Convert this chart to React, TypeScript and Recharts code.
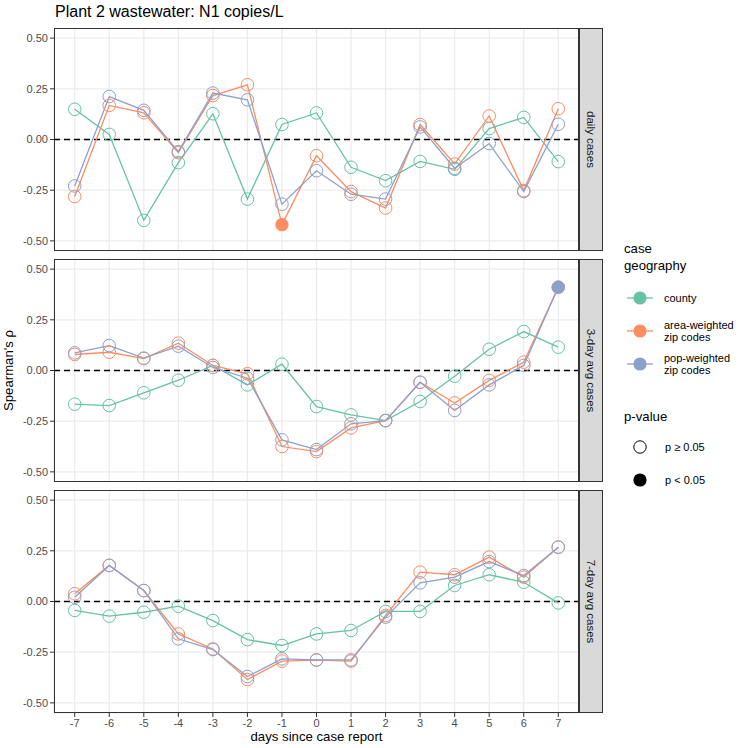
import React from "react";
import { LineChart, Line, XAxis, YAxis, CartesianGrid, ReferenceLine } from "recharts";

const DAYS = [-7, -6, -5, -4, -3, -2, -1, 0, 1, 2, 3, 4, 5, 6, 7];
const Y_TICKS = [0.5, 0.25, 0, -0.25, -0.5];

const FACETS = ["daily cases", "3-day avg cases", "7-day avg cases"];

// Spearman's rho, one array per facet and case geography
const DAILY_COUNTY = [0.149, 0.025, -0.399, -0.114, 0.127, -0.294, 0.074, 0.131, -0.137, -0.203, -0.108, -0.147, 0.054, 0.109, -0.109];
const DAILY_AREA = [-0.281, 0.168, 0.132, -0.065, 0.217, 0.27, -0.42, -0.08, -0.257, -0.338, 0.074, -0.121, 0.116, -0.252, 0.152];
const DAILY_POP = [-0.229, 0.212, 0.144, -0.06, 0.229, 0.196, -0.319, -0.154, -0.27, -0.294, 0.062, -0.142, -0.02, -0.257, 0.075];

const THREE_COUNTY = [-0.166, -0.173, -0.11, -0.048, 0.025, -0.071, 0.031, -0.178, -0.219, -0.247, -0.153, -0.028, 0.105, 0.192, 0.115];
const THREE_AREA = [0.079, 0.09, 0.059, 0.135, 0.025, -0.016, -0.375, -0.4, -0.283, -0.247, -0.058, -0.16, -0.049, 0.041, 0.411];
const THREE_POP = [0.087, 0.123, 0.061, 0.12, 0.015, -0.038, -0.342, -0.39, -0.263, -0.247, -0.058, -0.197, -0.071, 0.025, 0.411];

const SEVEN_COUNTY = [-0.044, -0.072, -0.053, -0.023, -0.094, -0.188, -0.217, -0.16, -0.143, -0.049, -0.049, 0.079, 0.132, 0.095, -0.007];
const SEVEN_AREA = [0.038, 0.178, 0.054, -0.16, -0.234, -0.385, -0.294, -0.289, -0.294, -0.069, 0.145, 0.132, 0.219, 0.12, 0.268];
const SEVEN_POP = [0.021, 0.178, 0.054, -0.184, -0.237, -0.37, -0.283, -0.288, -0.288, -0.077, 0.092, 0.12, 0.197, 0.128, 0.268];

// points with p < 0.05
const SIGNIFICANT = [
  { facet: "daily cases", series: "area", day: -1 },
  { facet: "3-day avg cases", series: "pop", day: 7 },
];

const SERIES = [
  { key: "county", label: ["county"], color: "#66C2A5" },
  { key: "area", label: ["area-weighted", "zip codes"], color: "#FC8D62" },
  { key: "pop", label: ["pop-weighted", "zip codes"], color: "#8DA0CB" },
];

const PANEL_VALUES = [
  { county: DAILY_COUNTY, area: DAILY_AREA, pop: DAILY_POP },
  { county: THREE_COUNTY, area: THREE_AREA, pop: THREE_POP },
  { county: SEVEN_COUNTY, area: SEVEN_AREA, pop: SEVEN_POP },
];

const FONT = "'Liberation Sans', Arial, Helvetica, sans-serif";
const PLOT_LEFT = 54;
const PLOT_W = 525;
const PANEL_H = 223;
const TOP0 = 28;
const GAP = 8;
const XAXIS_H = 22;

const panelTop = (i: number) => TOP0 + i * (PANEL_H + GAP);

const makeDot = (color: string, facet: string, series: string) => (props: any) => {
  const { cx, cy, payload, index } = props;
  if (cx == null || cy == null) return <g key={`d-${index}`} />;
  const sig = SIGNIFICANT.some((s) => s.facet === facet && s.series === series && s.day === payload.day);
  return sig ? (
    <circle key={`d-${index}`} cx={cx} cy={cy} r={6.4} fill={color} stroke={color} strokeWidth={0.5} />
  ) : (
    <circle key={`d-${index}`} cx={cx} cy={cy} r={6.3} fill="none" stroke={color} strokeWidth={1} />
  );
};

const Panel = ({ index }: { index: number }) => {
  const vals = PANEL_VALUES[index] as any;
  const facet = FACETS[index];
  const data = DAYS.map((d, i) => ({ day: d, county: vals.county[i], area: vals.area[i], pop: vals.pop[i] }));
  const bottom = index === 2;
  const tickStyle = { fill: "#4D4D4D", fontSize: 11, fontFamily: FONT };
  return (
    <div style={{ position: "absolute", left: 0, top: panelTop(index) }}>
      <LineChart
        width={PLOT_LEFT + PLOT_W}
        height={PANEL_H + (bottom ? XAXIS_H : 0)}
        data={data}
        margin={{ top: 0, right: 0, bottom: 0, left: 0 }}
      >
        <CartesianGrid stroke="#EBEBEB" strokeWidth={1.2} />
        <XAxis
          dataKey="day"
          type="number"
          domain={[-7.6, 7.6]}
          allowDataOverflow
          ticks={DAYS}
          hide={!bottom}
          height={XAXIS_H}
          axisLine={false}
          tickLine={{ stroke: "#333333" }}
          tickSize={4}
          tickMargin={2}
          tick={tickStyle}
          interval={0}
        />
        <YAxis
          type="number"
          domain={[-0.55, 0.55]}
          allowDataOverflow
          ticks={Y_TICKS}
          width={PLOT_LEFT}
          axisLine={false}
          tickLine={{ stroke: "#333333" }}
          tickSize={4}
          tickMargin={2}
          tick={tickStyle}
          tickFormatter={(v: number) => v.toFixed(2)}
          interval={0}
        />
        <ReferenceLine y={0} stroke="#000000" strokeWidth={1.4} strokeDasharray="6 4" />
        {SERIES.map((s) => (
          <Line
            key={`l-${s.key}`}
            dataKey={s.key}
            stroke={s.color}
            strokeWidth={1.3}
            dot={false}
            activeDot={false}
            isAnimationActive={false}
            type="linear"
          />
        ))}
        {SERIES.map((s) => (
          <Line
            key={`p-${s.key}`}
            dataKey={s.key}
            stroke="none"
            strokeOpacity={0}
            dot={makeDot(s.color, facet, s.key)}
            activeDot={false}
            isAnimationActive={false}
            type="linear"
          />
        ))}
      </LineChart>
    </div>
  );
};

const Overlay = () => {
  const centerY = (TOP0 + panelTop(2) + PANEL_H) / 2;
  return (
    <svg
      width={739}
      height={748}
      style={{ position: "absolute", left: 0, top: 0, pointerEvents: "none" }}
      fontFamily={FONT}
    >
      <text x={55} y={16.7} fontSize={16} fill="#000">
        Plant 2 wastewater: N1 copies/L
      </text>
      <text transform={`translate(12.5, ${centerY}) rotate(-90)`} textAnchor="middle" fontSize={13.2} fill="#000">
        Spearman's ρ
      </text>
      <text x={PLOT_LEFT + PLOT_W / 2} y={741} textAnchor="middle" fontSize={13.2} fill="#000">
        days since case report
      </text>
      {FACETS.map((f, i) => (
        <g key={f}>
          <rect x={PLOT_LEFT + 0.5} y={panelTop(i) + 0.5} width={PLOT_W - 1} height={PANEL_H - 1} fill="none" stroke="#333333" strokeWidth={1} />
          <rect x={PLOT_LEFT + PLOT_W + 0.5} y={panelTop(i) + 0.5} width={23} height={PANEL_H - 1} fill="#D9D9D9" stroke="#333333" strokeWidth={1} />
          <text
            transform={`translate(${PLOT_LEFT + PLOT_W + 12}, ${panelTop(i) + PANEL_H / 2}) rotate(90)`}
            textAnchor="middle"
            dominantBaseline="central"
            fontSize={11.5}
            fill="#1A1A1A"
          >
            {f}
          </text>
        </g>
      ))}
      <text x={624} y={253} fontSize={13.2} fill="#000">case</text>
      <text x={624} y={270} fontSize={13.2} fill="#000">geography</text>
      {SERIES.map((s, i) => {
        const cy = [298, 331, 364][i];
        return (
          <g key={s.key}>
            <line x1={627} x2={653} y1={cy} y2={cy} stroke={s.color} strokeWidth={1.3} />
            <circle cx={640} cy={cy} r={6.6} fill={s.color} />
            {s.label.map((t, j) => (
              <text key={t} x={664} y={cy + 4 + (s.label.length === 2 ? (j === 0 ? -6 : 6) : 0)} fontSize={11} fill="#000">
                {t}
              </text>
            ))}
          </g>
        );
      })}
      <text x={624} y={421} fontSize={13.2} fill="#000">p-value</text>
      <circle cx={640} cy={447} r={6.2} fill="none" stroke="#000" strokeWidth={1} />
      <text x={665} y={451} fontSize={11} fill="#000">p ≥ 0.05</text>
      <circle cx={640} cy={480} r={6.6} fill="#000" />
      <text x={665} y={484} fontSize={11} fill="#000">p &lt; 0.05</text>
    </svg>
  );
};

export default function App() {
  return (
    <div style={{ position: "absolute", left: 0, top: 0, width: 739, height: 748, background: "#fff", fontFamily: FONT }}>
      {FACETS.map((f, i) => (
        <Panel key={f} index={i} />
      ))}
      <Overlay />
    </div>
  );
}
